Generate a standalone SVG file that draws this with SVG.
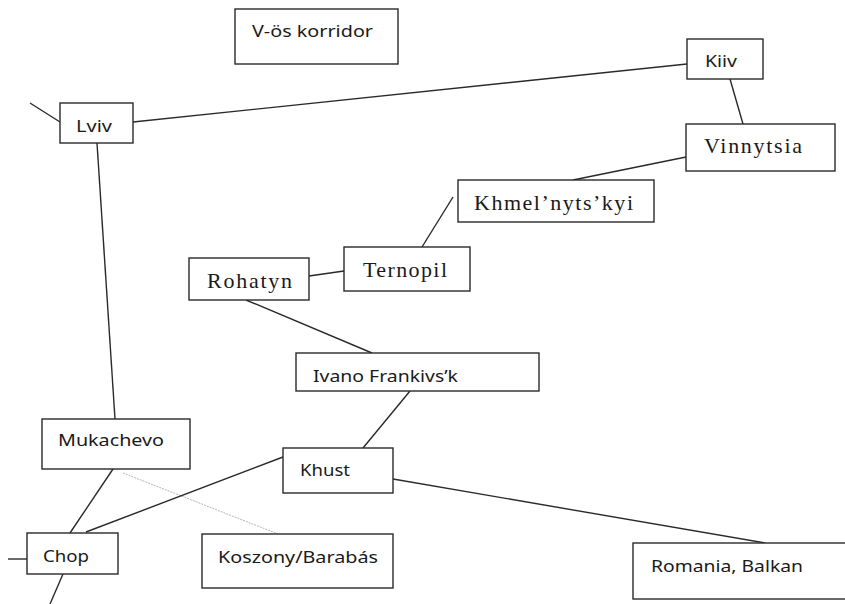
<svg xmlns="http://www.w3.org/2000/svg" width="845" height="604" viewBox="0 0 845 604">
<style>
.box{fill:#fff;stroke:#2a2a2a;stroke-width:1.4}
.s{font-family:"Noto Sans","Open Sans","Liberation Sans",sans-serif;font-size:17px;fill:#1a1a1a}
.r{font-family:"Liberation Serif","DejaVu Serif",serif;font-size:22px;fill:#1a1a1a}
.e{stroke:#2a2a2a;stroke-width:1.4;fill:none}
.d{stroke:#b5b5b5;stroke-width:1;stroke-dasharray:2 1;fill:none}
</style>
<rect width="845" height="604" fill="#fff"/>
<g id="connectors">
<line class="e" x1="30" y1="103" x2="60" y2="122"/>
<line class="e" x1="133" y1="122" x2="687" y2="64"/>
<line class="e" x1="730" y1="79" x2="743" y2="124"/>
<line class="e" x1="686" y1="157" x2="573" y2="180"/>
<line class="e" x1="453" y1="197" x2="422" y2="247"/>
<line class="e" x1="309" y1="276" x2="344" y2="271"/>
<line class="e" x1="246" y1="300" x2="372" y2="353"/>
<line class="e" x1="410" y1="391" x2="363" y2="448"/>
<line class="e" x1="97" y1="143" x2="115" y2="419"/>
<line class="e" x1="113" y1="469" x2="70" y2="533"/>
<line class="d" x1="123" y1="473" x2="278" y2="534"/>
<line class="e" x1="86" y1="532" x2="283" y2="457"/>
<line class="e" x1="8" y1="559" x2="27" y2="559"/>
<line class="e" x1="63" y1="574" x2="50" y2="604"/>
<line class="e" x1="393" y1="479" x2="765" y2="543"/>
</g>
<g id="n-korridor"><rect class="box" x="235" y="9" width="163" height="55"/><text class="s" x="252" y="37" font-size="18" textLength="121" lengthAdjust="spacingAndGlyphs">V-ös korridor</text></g>
<g id="n-lviv"><rect class="box" x="60" y="103" width="73" height="40"/><text class="s" x="76" y="132" textLength="36" lengthAdjust="spacingAndGlyphs">Lviv</text></g>
<g id="n-kiiv"><rect class="box" x="687" y="39" width="76" height="40"/><text class="s" x="705" y="67" textLength="32" lengthAdjust="spacingAndGlyphs">Kiiv</text></g>
<g id="n-vinnytsia"><rect class="box" x="686" y="124" width="149" height="47"/><text class="r" x="704" y="153" textLength="98" lengthAdjust="spacing">Vinnytsia</text></g>
<g id="n-khmel"><rect class="box" x="458" y="180" width="196" height="42"/><text class="r" x="474" y="210" textLength="159" lengthAdjust="spacing">Khmel’nyts’kyi</text></g>
<g id="n-ternopil"><rect class="box" x="344" y="247" width="126" height="44"/><text class="r" x="363" y="277" textLength="84" lengthAdjust="spacing">Ternopil</text></g>
<g id="n-rohatyn"><rect class="box" x="189" y="258" width="120" height="42"/><text class="r" x="207" y="288" textLength="85" lengthAdjust="spacing">Rohatyn</text></g>
<g id="n-ivano"><rect class="box" x="296" y="353" width="243" height="38"/><text class="s" x="313" y="382" textLength="145" lengthAdjust="spacingAndGlyphs">Ivano Frankivs’k</text></g>
<g id="n-mukachevo"><rect class="box" x="42" y="419" width="148" height="50"/><text class="s" x="58" y="446" textLength="106" lengthAdjust="spacingAndGlyphs">Mukachevo</text></g>
<g id="n-khust"><rect class="box" x="283" y="448" width="110" height="45"/><text class="s" x="300" y="476" textLength="50" lengthAdjust="spacingAndGlyphs">Khust</text></g>
<g id="n-chop"><rect class="box" x="27" y="533" width="91" height="41"/><text class="s" x="43" y="562" textLength="46" lengthAdjust="spacingAndGlyphs">Chop</text></g>
<g id="n-koszony"><rect class="box" x="202" y="534" width="191" height="54"/><text class="s" x="218" y="563" textLength="160" lengthAdjust="spacingAndGlyphs">Koszony/Barabás</text></g>
<g id="n-romania"><rect class="box" x="633" y="543" width="215" height="56"/><text class="s" x="651" y="572" textLength="152" lengthAdjust="spacingAndGlyphs">Romania, Balkan</text></g>
</svg>
